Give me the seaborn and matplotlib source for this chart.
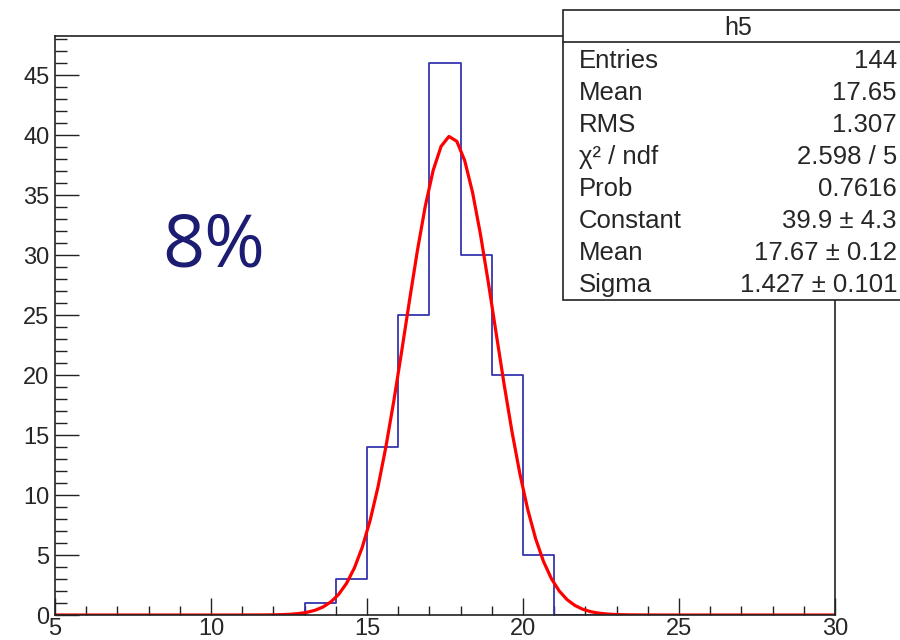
import numpy as np
import pandas as pd
import matplotlib
matplotlib.use("Agg")
import matplotlib.pyplot as plt
import seaborn as sns
from matplotlib.patches import Rectangle
from matplotlib.ticker import MultipleLocator

# Histogram h5: unit-width bins from 5 to 30
bin_lo = [13, 14, 15, 16, 17, 18, 19, 20]
counts = [1, 3, 14, 25, 46, 30, 20, 5]
x_range = [5, 30]

# Gaussian fit parameters
fit_constant = 39.9
fit_mean = 17.67
fit_sigma = 1.427

stat_labels = ["Entries", "Mean", "RMS", "χ² / ndf", "Prob", "Constant", "Mean", "Sigma"]
stat_values = ["144", "17.65", "1.307", "2.598 / 5", "0.7616",
               "39.9 ± 4.3", "17.67 ± 0.12", "1.427 ± 0.101"]

sns.set_style("ticks")
plt.rcParams["font.family"] = ["Liberation Sans", "DejaVu Sans"]

W, H = 900, 640
fig = plt.figure(figsize=(9, 6.4), dpi=100)
ax = fig.add_axes([55 / W, 25 / H, 780 / W, 579 / H])

edges = np.arange(x_range[0], x_range[1] + 1, 1.0)
full_counts = np.zeros(len(edges) - 1)
for lo, c in zip(bin_lo, counts):
    full_counts[int(lo - x_range[0])] = c
centers = edges[:-1] + 0.5
hist_df = pd.DataFrame({"x": centers, "w": full_counts})

sns.histplot(data=hist_df, x="x", weights="w", binwidth=1, binrange=tuple(x_range),
             element="step", fill=False, color="#3535b0", linewidth=1.3, ax=ax)

# Fitted gaussian drawn with 100 points across the axis range
xf = np.linspace(x_range[0], x_range[1], 100)
yf = fit_constant * np.exp(-0.5 * ((xf - fit_mean) / fit_sigma) ** 2)
fit_df = pd.DataFrame({"x": xf, "y": yf})
sns.lineplot(data=fit_df, x="x", y="y", color="red", linewidth=2.3,
             estimator=None, sort=False, ax=ax)

ax.set_xlim(*x_range)
ax.set_ylim(0, 48.25)
ax.set_xlabel("")
ax.set_ylabel("")

ax.xaxis.set_major_locator(MultipleLocator(5))
ax.xaxis.set_minor_locator(MultipleLocator(1))
ax.yaxis.set_major_locator(MultipleLocator(5))
ax.yaxis.set_minor_locator(MultipleLocator(1))
ax.tick_params(axis="x", which="major", direction="in", length=12, width=1,
               labelsize=17, pad=2, top=False, color="#222222")
ax.tick_params(axis="x", which="minor", direction="in", length=6.5, width=1,
               top=False, color="#222222")
ax.tick_params(axis="y", which="major", direction="in", length=17, width=1,
               labelsize=17, pad=4, right=False, color="#222222")
ax.tick_params(axis="y", which="minor", direction="in", length=8.5, width=1,
               right=False, color="#222222")
for s in ax.spines.values():
    s.set_color("#222222")
    s.set_linewidth(1.2)

ax.text(8.45, 30.6, "8%", fontsize=53, color="#1c1c72", family=["Open Sans", "DejaVu Sans"],
        ha="left", va="center")

# Statistics box
def fx(px):
    return px / W

def fy(py):
    return 1 - py / H

box = Rectangle((fx(563), fy(300)), fx(920) - fx(563), fy(10) - fy(300),
                 transform=fig.transFigure, facecolor="white", edgecolor="#222222",
                 linewidth=1.2, zorder=5, clip_on=False)
fig.patches.append(box)
fig.add_artist(plt.Line2D([fx(563), fx(920)], [fy(42), fy(42)],
                          transform=fig.transFigure, color="#222222", linewidth=1.2,
                          zorder=6))
fig.text(fx(738), fy(28), "h5", fontsize=18, ha="center", va="center", zorder=7)
row_y = [61, 93, 125, 157, 189, 221, 253, 285]
for lab, val, py in zip(stat_labels, stat_values, row_y):
    fig.text(fx(579), fy(py), lab, fontsize=18.5, ha="left", va="center", zorder=7)
    fig.text(fx(897), fy(py), val, fontsize=18.5, ha="right", va="center", zorder=7)

fig.savefig("out.png", dpi=100, facecolor="white")
